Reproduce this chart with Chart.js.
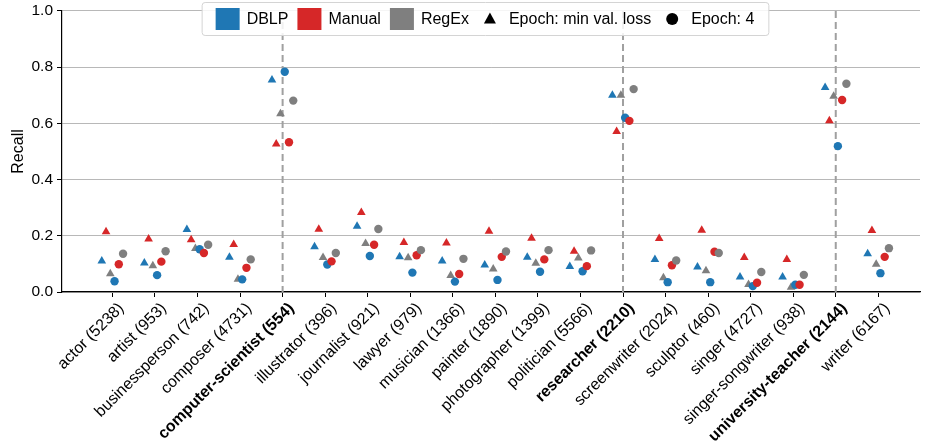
<!DOCTYPE html>
<html>
<head>
<meta charset="utf-8">
<script src="https://cdn.jsdelivr.net/npm/chart.js@4"></script>
<style>
  body { margin: 0; background: #fff; }
</style>
</head>
<body>
<canvas id="recallChart" width="925" height="445"></canvas>
<script>
// categories on the x axis (bold ones get a dashed marker line)
const categories = [
    'actor (5238)', 'artist (953)', 'businessperson (742)', 'composer (4731)',
    'computer-scientist (554)', 'illustrator (396)', 'journalist (921)', 'lawyer (979)',
    'musician (1366)', 'painter (1890)', 'photographer (1399)', 'politician (5566)',
    'researcher (2210)', 'screenwriter (2024)', 'sculptor (460)', 'singer (4727)',
    'singer-songwriter (938)', 'university-teacher (2144)', 'writer (6167)'
];
const highlighted = ['computer-scientist (554)', 'researcher (2210)', 'university-teacher (2144)'];

const sources = ['DBLP', 'Manual', 'RegEx'];
const epochLabels = ['Epoch: min val. loss', 'Epoch: 4'];
const yTicks = [0, 0.2, 0.4, 0.6, 0.8, 1.0];

// recall, epoch with minimum validation loss
const dblpMinLoss   = [0.110, 0.103, 0.222, 0.124, 0.754, 0.161, 0.234, 0.125, 0.110, 0.096, 0.124, 0.091, 0.700, 0.116, 0.089, 0.053, 0.053, 0.728, 0.136];
const manualMinLoss = [0.214, 0.189, 0.186, 0.169, 0.527, 0.223, 0.283, 0.176, 0.174, 0.216, 0.191, 0.145, 0.571, 0.190, 0.220, 0.123, 0.116, 0.609, 0.219];
const regexMinLoss  = [0.065, 0.093, 0.155, 0.045, 0.634, 0.123, 0.173, 0.122, 0.059, 0.082, 0.102, 0.121, 0.700, 0.051, 0.076, 0.027, 0.017, 0.697, 0.099];
// recall, epoch 4
const dblpEpoch4   = [0.038, 0.060, 0.152, 0.045, 0.784, 0.098, 0.128, 0.069, 0.037, 0.043, 0.072, 0.074, 0.620, 0.035, 0.035, 0.021, 0.026, 0.519, 0.067];
const manualEpoch4 = [0.099, 0.108, 0.139, 0.086, 0.533, 0.109, 0.168, 0.131, 0.064, 0.125, 0.116, 0.092, 0.609, 0.095, 0.143, 0.033, 0.026, 0.683, 0.125];
const regexEpoch4  = [0.136, 0.145, 0.168, 0.116, 0.681, 0.139, 0.224, 0.149, 0.118, 0.144, 0.149, 0.148, 0.722, 0.112, 0.139, 0.071, 0.061, 0.741, 0.156];

const colors = { DBLP: '#1f77b4', Manual: '#d62728', RegEx: '#7f7f7f' };
const FONT = 'Liberation Sans';

// dodge offsets so the six markers sit side by side per category
const series = [
    { src: 'DBLP',   style: 'triangle', values: dblpMinLoss,   offset: -0.25 },
    { src: 'Manual', style: 'triangle', values: manualMinLoss, offset: -0.15 },
    { src: 'RegEx',  style: 'triangle', values: regexMinLoss,  offset: -0.05 },
    { src: 'DBLP',   style: 'circle',   values: dblpEpoch4,    offset: 0.05 },
    { src: 'Manual', style: 'circle',   values: manualEpoch4,  offset: 0.15 },
    { src: 'RegEx',  style: 'circle',   values: regexEpoch4,   offset: 0.25 }
];

const datasets = series.map((s, k) => ({
    label: s.src,
    data: s.values.map((v, i) => ({ x: i + s.offset, y: v })),
    pointStyle: s.style,
    pointRadius: s.style === 'triangle' ? 5 : 4.2,
    backgroundColor: colors[s.src],
    borderColor: colors[s.src],
    borderWidth: 0,
    order: series.length - k
}));

// vertical dashed lines behind the points
const markerLines = {
    id: 'markerLines',
    beforeDatasetsDraw(chart) {
        const { ctx, chartArea, scales } = chart;
        ctx.save();
        ctx.strokeStyle = '#a0a0a0';
        ctx.lineWidth = 2;
        ctx.setLineDash([7, 4]);
        highlighted.forEach(name => {
            const x = scales.x.getPixelForValue(categories.indexOf(name));
            ctx.beginPath();
            ctx.moveTo(x, chartArea.top);
            ctx.lineTo(x, chartArea.bottom);
            ctx.stroke();
        });
        ctx.restore();
    }
};

// matplotlib-like framed legend inside the top of the plot
const boxLegend = {
    id: 'boxLegend',
    afterDraw(chart) {
        const ctx = chart.ctx;
        const items = sources.map(s => ({ kind: 'rect', color: colors[s], text: s }))
            .concat([{ kind: 'triangle', color: '#000', text: epochLabels[0] },
                     { kind: 'circle', color: '#000', text: epochLabels[1] }]);
        ctx.save();
        ctx.font = '16px "' + FONT + '"';
        const padX = 14, handleW = 24, gap = 7, itemGap = 9;
        let total = padX * 2 + itemGap * (items.length - 1);
        items.forEach(it => { it.w = ctx.measureText(it.text).width; total += handleW + gap + it.w; });
        const cx = 485, top = 2, h = 33;
        const left = cx - total / 2;
        ctx.fillStyle = 'rgba(255,255,255,0.85)';
        ctx.strokeStyle = '#d4d4d4';
        ctx.lineWidth = 1;
        ctx.beginPath();
        ctx.roundRect(left + 0.5, top + 0.5, total, h, 3);
        ctx.fill();
        ctx.stroke();
        const midY = top + h / 2 + 0.5;
        let x = left + padX;
        items.forEach(it => {
            ctx.fillStyle = it.color;
            if (it.kind === 'rect') {
                ctx.fillRect(x, midY - 11, handleW, 22);
            } else if (it.kind === 'triangle') {
                const c = x + handleW / 2;
                ctx.beginPath();
                ctx.moveTo(c, midY - 6.5);
                ctx.lineTo(c + 6, midY + 4.5);
                ctx.lineTo(c - 6, midY + 4.5);
                ctx.closePath();
                ctx.fill();
            } else {
                ctx.beginPath();
                ctx.arc(x + handleW / 2, midY, 6, 0, Math.PI * 2);
                ctx.fill();
            }
            x += handleW + gap;
            ctx.fillStyle = '#000';
            ctx.textBaseline = 'middle';
            ctx.fillText(it.text, x, midY + 1);
            x += it.w + itemGap;
        });
        ctx.restore();
    }
};

const ctx = document.getElementById('recallChart').getContext('2d');
const recallChart = new Chart(ctx, {
    type: 'scatter',
    data: { datasets: datasets },
    options: {
        responsive: false,
        animation: false,
        layout: { padding: { top: 0, right: 0, left: 0, bottom: 0 } },
        plugins: {
            legend: { display: false },
            tooltip: { enabled: false }
        },
        scales: {
            x: {
                type: 'linear',
                min: -1.185,
                max: 18.98,
                afterBuildTicks: scale => {
                    scale.ticks = categories.map((c, i) => ({ value: i }));
                },
                afterFit: scale => { scale.height = 153; },
                ticks: {
                    autoSkip: false,
                    minRotation: 45,
                    maxRotation: 45,
                    padding: 2,
                    labelOffset: 9,
                    color: '#000',
                    font: c => ({
                        family: FONT,
                        size: 16,
                        weight: highlighted.includes(categories[c.tick ? c.tick.value : 0]) ? 'bold' : 'normal'
                    }),
                    callback: v => categories[v]
                },
                grid: { drawOnChartArea: false, tickLength: 5, tickColor: '#000' },
                border: { color: '#000', width: 1.2 }
            },
            y: {
                min: 0,
                max: 1,
                afterBuildTicks: scale => {
                    scale.ticks = yTicks.map(v => ({ value: v }));
                },
                afterFit: scale => { scale.width = 62; },
                ticks: {
                    color: '#000',
                    padding: 4,
                    font: { family: FONT, size: 15.5, lineHeight: 0.9 },
                    callback: v => v.toFixed(1)
                },
                grid: { color: '#b8b8b8', lineWidth: 1, tickLength: 5, tickColor: '#000' },
                border: { color: '#000', width: 1.2 },
                title: {
                    display: true,
                    text: 'Recall',
                    color: '#000',
                    font: { family: FONT, size: 16 },
                    padding: { top: 9, bottom: 0 }
                }
            }
        }
    },
    plugins: [markerLines, boxLegend]
});
</script>
</body>
</html>
